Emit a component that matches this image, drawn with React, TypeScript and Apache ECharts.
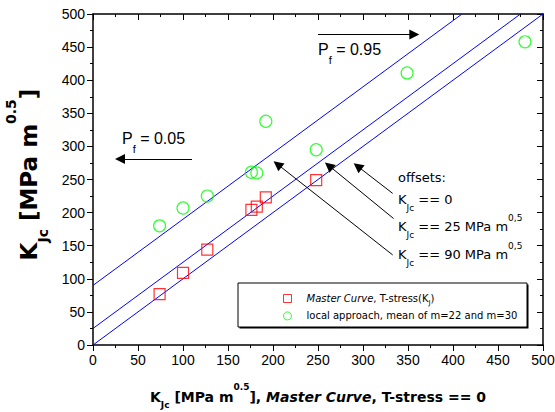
import React, { useEffect, useRef } from "react";
import * as echarts from "echarts";

// ---- data ----
const masterCurveX = [74, 100, 127, 176, 182, 192, 248];
const masterCurveY = [77, 109, 144, 204, 209, 223, 249];
const localApproachX = [74, 100, 127, 176, 182, 192, 248, 349, 480];
const localApproachY = [180, 207, 225, 261, 260, 338, 295, 411, 458];

// offset lines K = K_MC + offset
const offsetLine0 = [[0, 0], [500, 500]];
const offsetLine25 = [[0, 25], [475, 500]];
const offsetLine90 = [[0, 90], [410, 500]];

const axisMin = 0;
const axisMax = 500;
const axisStep = 50;

// annotation arrows (tail -> head, data coords)
const arrowPf95 = [[250, 469], [357, 469]];
const arrowPf05 = [[110, 281], [30, 281]];
const arrowOffset0 = [[333, 229], [294, 270]];
const arrowOffset25 = [[334, 191], [262, 271]];
const arrowOffset90 = [[333, 136], [205, 273]];

const masterName = "Master Curve, T-stress(KJ)";
const localName = "local approach, mean of m=22 and m=30";

const ARIAL = "'Liberation Sans', Arial, sans-serif";
const COMIC = "'DejaVu Sans', sans-serif";

function zip(xs: number[], ys: number[]) {
  return xs.map((x, i) => [x, ys[i]]);
}

function richSet(F: number, S: number, dSub: number, dSup: number, family: string, weight: string) {
  const ext = Math.max(dSub, dSup) + S / 2 + 1;
  const H = Math.ceil(2 * ext);
  const c = H / 2;
  const base: any = { fontFamily: family, fontWeight: weight, color: "#000", lineHeight: H, verticalAlign: "top" };
  return {
    c,
    H,
    rich: {
      m: { ...base, fontSize: F, padding: [c - F / 2, 0, 0, 0] },
      i: { ...base, fontSize: F, fontStyle: "italic", padding: [c - F / 2, 0, 0, 0] },
      b: { ...base, fontSize: S, padding: [c + dSub - S / 2, 0, 0, 0] },
      p: { ...base, fontSize: S, padding: [c - dSup - S / 2, 0, 0, 0] },
      g: { ...base, fontSize: F, width: 10, padding: [c - F / 2, 0, 0, 0] },
    },
  };
}

function label(x: number, yCenter: number, text: string, rs: any, extra: any = {}) {
  return {
    type: "text",
    x,
    y: yCenter - rs.c,
    z: 20,
    style: { text, rich: rs.rich, align: "left", verticalAlign: "top", fill: "#000", ...extra },
  };
}

export default function App() {
  const ref = useRef<HTMLDivElement>(null);
  useEffect(() => {
    if (!ref.current) return;
    const chart = echarts.init(ref.current, null, { renderer: "svg" });

    const pfRich = richSet(16, 11, 11, 0, ARIAL, "normal");
    const offRich = richSet(13, 9, 8.5, 8.7, COMIC, "normal");
    const xtRich = richSet(14, 9, 8, 10, COMIC, "bold");
    const ytRich = richSet(23, 14, 13.8, 18, COMIC, "bold");
    const lgRich = richSet(10, 7, 4, 0, COMIC, "normal");

    const axisLineStyle = { color: "#000", width: 1.5 };
    const mkX = (pos: string, primary: boolean) => ({
      type: "value",
      position: pos,
      min: axisMin,
      max: axisMax,
      interval: axisStep,
      axisLine: { show: true, onZero: false, lineStyle: axisLineStyle },
      axisTick: { show: true, inside: !primary, length: 6, lineStyle: { color: "#000", width: 1 } },
      minorTick: { show: true, splitNumber: 2, length: 3, lineStyle: { color: "#000", width: 1 } },
      axisLabel: { show: primary, color: "#000", fontSize: 14, fontFamily: ARIAL, margin: 8 },
      splitLine: { show: false },
      minorSplitLine: { show: false },
    });

    const arrowSeries = (coords: number[][]) => ({
      coords,
    });

    chart.setOption({
      animation: false,
      backgroundColor: "#fff",
      grid: { left: 93, right: 12, top: 14, bottom: 67, containLabel: false, outerBoundsMode: "none" },
      xAxis: [mkX("bottom", true), mkX("top", false)],
      yAxis: [mkX("left", true), mkX("right", false)],
      legend: {
        orient: "vertical",
        left: 278,
        top: 285,
        itemWidth: 8,
        itemHeight: 8,
        itemGap: 1.4,
        z: 10,
        data: [
          { name: masterName, icon: "rect", itemStyle: { color: "transparent", borderColor: "#ff0000", borderWidth: 1 } },
          { name: localName, icon: "circle", itemStyle: { color: "transparent", borderColor: "#00ff00", borderWidth: 1 } },
        ],
        formatter: (name: string) =>
          name === masterName
            ? "{g|}{i|Master Curve}{m|, T-stress(K}{b|J}{m|)}"
            : "{g|}{m|local approach, mean of m=22 and m=30}",
        textStyle: { color: "#000", rich: lgRich.rich },
      },
      series: [
        { type: "line", data: offsetLine0, symbol: "none", silent: true, lineStyle: { color: "#0000ff", width: 1 }, z: 2 },
        { type: "line", data: offsetLine25, symbol: "none", silent: true, lineStyle: { color: "#0000ff", width: 1 }, z: 2 },
        { type: "line", data: offsetLine90, symbol: "none", silent: true, lineStyle: { color: "#0000ff", width: 1 }, z: 2 },
        {
          name: masterName,
          type: "scatter",
          data: zip(masterCurveX, masterCurveY),
          symbol: "rect",
          symbolSize: 11,
          itemStyle: { color: "transparent", borderColor: "#ff0000", borderWidth: 1.2 },
          z: 5,
        },
        {
          name: localName,
          type: "scatter",
          data: zip(localApproachX, localApproachY),
          symbol: "circle",
          symbolSize: 12,
          itemStyle: { color: "transparent", borderColor: "#00ff00", borderWidth: 1.2 },
          z: 5,
        },
        {
          type: "lines",
          coordinateSystem: "cartesian2d",
          silent: true,
          symbol: ["none", "path://M5,0L10,18L0,18Z"],
          symbolSize: [6, 10],
          lineStyle: { color: "#000", width: 1, opacity: 1 },
          itemStyle: { color: "#000" },
          data: [arrowPf95, arrowPf05, arrowOffset0, arrowOffset25, arrowOffset90].map(arrowSeries),
          z: 6,
        },
      ],
      graphic: [
        { type: "rect", shape: { x: 239.5, y: 284.5, width: 289, height: 44 }, style: { fill: "#000" }, z: 1 },
        { type: "rect", shape: { x: 238, y: 283, width: 289, height: 44 }, style: { fill: "#fff", stroke: "#000", lineWidth: 1 }, z: 2 },
        label(318, 49, "{m|P}{b|f}{m| = 0.95}", pfRich),
        label(122, 138, "{m|P}{b|f}{m| = 0.05}", pfRich),
        label(398, 177.7, "{m|offsets:}", offRich),
        label(398, 199.3, "{m|K}{b|Jc}{m| == 0}", offRich),
        label(398, 226.7, "{m|K}{b|Jc}{m| == 25 MPa m}{p|0,5}", offRich),
        label(398, 254.3, "{m|K}{b|Jc}{m| == 90 MPa m}{p|0,5}", offRich),
        {
          type: "text",
          x: 318,
          y: 397 - xtRich.c,
          z: 20,
          style: {
            text: "{m|K}{b|Jc}{m| [MPa m}{p|0.5}{m|], }{i|Master Curve}{m|, T-stress == 0}",
            rich: xtRich.rich,
            align: "center",
            verticalAlign: "top",
          },
        },
        {
          type: "text",
          x: 29 - ytRich.c,
          y: 174.5,
          rotation: Math.PI / 2,
          z: 20,
          style: {
            text: "{m|K}{b|Jc}{m| [MPa m}{p|0.5}{m|]}",
            rich: ytRich.rich,
            align: "center",
            verticalAlign: "top",
          },
        },
      ],
    });
    return () => chart.dispose();
  }, []);
  return <div ref={ref} style={{ position: "absolute", left: 0, top: 0, width: 555, height: 412 }} />;
}
